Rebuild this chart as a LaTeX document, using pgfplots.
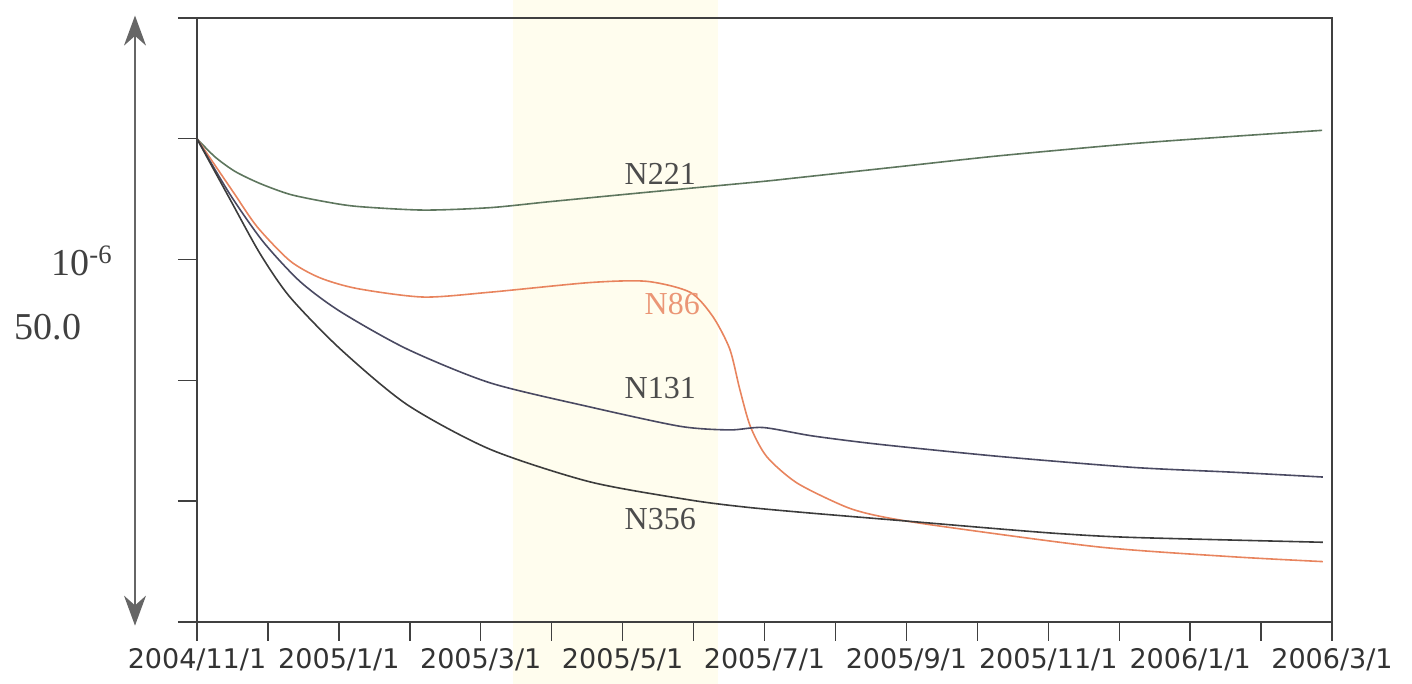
\documentclass[border=0pt]{standalone}
\usepackage{fontspec}
\setmainfont{Liberation Serif}
\newfontfamily\tickfont{DejaVu Sans}
\usepackage{pgfplots}
\pgfplotsset{compat=1.18}
\usetikzlibrary{arrows.meta}
\definecolor{cN221}{HTML}{5E765E}
\definecolor{cN86}{HTML}{E8845E}
\definecolor{cN131}{HTML}{4A4A62}
\definecolor{cN356}{HTML}{3C3C3C}
\definecolor{band}{HTML}{FFFDEE}
\definecolor{axisgray}{HTML}{404040}
\begin{document}
\begin{tikzpicture}
\begin{axis}[
  at={(0,0)}, anchor=south west,
  scale only axis, width=567.5pt, height=302pt,
  xmin=0, xmax=16, ymin=0, ymax=5,
  xtick={0,...,16},
  xticklabels={2004/11/1,,2005/1/1,,2005/3/1,,2005/5/1,,2005/7/1,,2005/9/1,,2005/11/1,,2006/1/1,,2006/3/1},
  ytick={0,...,5}, yticklabels={},
  xtick pos=bottom, ytick pos=left, tick align=outside,
  major tick length=9.5pt,
  tick style={axisgray, line width=0.7pt},
  axis line style={axisgray, line width=0.7pt},
  xticklabel style={font=\tickfont\fontsize{13.5}{16}\selectfont, text=black!80},
  clip=false, axis on top,
  every axis plot/.append style={line width=0.8pt, smooth, tension=0.45, no markers},
]
\fill[band] (axis cs:4.46,-0.52) rectangle (axis cs:7.35,5.17);

% N221
\addplot[cN221] coordinates {
(0,4.00) (0.254,3.85) (0.536,3.73) (0.888,3.63) (1.31,3.54) (1.80,3.48) (2.26,3.44) (3.19,3.41)
(4.13,3.43) (4.98,3.48) (6.39,3.56) (7.94,3.645) (8.50,3.68) (9.91,3.77) (11.32,3.86) (13.19,3.96)
(14.60,4.02) (15.86,4.07)};
% N86
\addplot[cN86] coordinates {
(0,4.00) (0.51,3.56) (0.85,3.27) (1.31,2.99) (1.73,2.85) (2.26,2.76) (3.19,2.69) (4.13,2.73)
(5.54,2.81) (6.34,2.82) (6.95,2.73) (7.27,2.53) (7.51,2.26) (7.65,1.93) (7.80,1.62) (8.03,1.37)
(8.46,1.15) (9.16,0.95) (9.67,0.87) (10.52,0.79) (12.73,0.62) (14.60,0.54) (15.87,0.50)};
% N131
\addplot[cN131] coordinates {
(0,4.00) (0.465,3.54) (0.93,3.15) (1.45,2.82) (2.02,2.57) (2.96,2.26) (4.13,1.98) (5.54,1.78)
(6.81,1.62) (7.51,1.59) (7.98,1.61) (8.68,1.54) (9.63,1.47) (11.32,1.37) (13.19,1.28) (14.60,1.24)
(15.87,1.20)};
% N356
\addplot[cN356] coordinates {
(0,4.00) (0.465,3.50) (0.888,3.05) (1.31,2.69) (2.02,2.26) (2.96,1.80) (4.13,1.43) (5.54,1.16)
(6.95,1.01) (7.75,0.95) (8.68,0.90) (9.91,0.84) (11.32,0.77) (12.20,0.73) (13.19,0.70) (15.87,0.66)};

\node[font=\fontsize{16}{19}\selectfont, text=black!70] at (axis cs:6.53,3.71) {N221};
\node[font=\fontsize{16}{19}\selectfont, text=cN86!85!white] at (axis cs:6.70,2.63) {N86};
\node[font=\fontsize{16}{19}\selectfont, text=black!70] at (axis cs:6.53,1.94) {N131};
\node[font=\fontsize{16}{19}\selectfont, text=black!70] at (axis cs:6.53,0.85) {N356};

\draw[black!60, line width=0.7pt, {Stealth[length=15pt,width=11pt]}-{Stealth[length=15pt,width=11pt]}]
  (axis cs:-0.874,-0.03) -- (axis cs:-0.874,5.02);
\node[font=\fontsize{19}{22}\selectfont, text=black!75] at (axis cs:-1.62,2.99) {10\textsuperscript{-6}};
\node[font=\fontsize{19}{22}\selectfont, text=black!75] at (axis cs:-2.10,2.44) {50.0};
\end{axis}
\pgfresetboundingbox
\useasboundingbox (-98.5pt,-31pt) rectangle (607.5pt,311pt);
\end{tikzpicture}
\end{document}
